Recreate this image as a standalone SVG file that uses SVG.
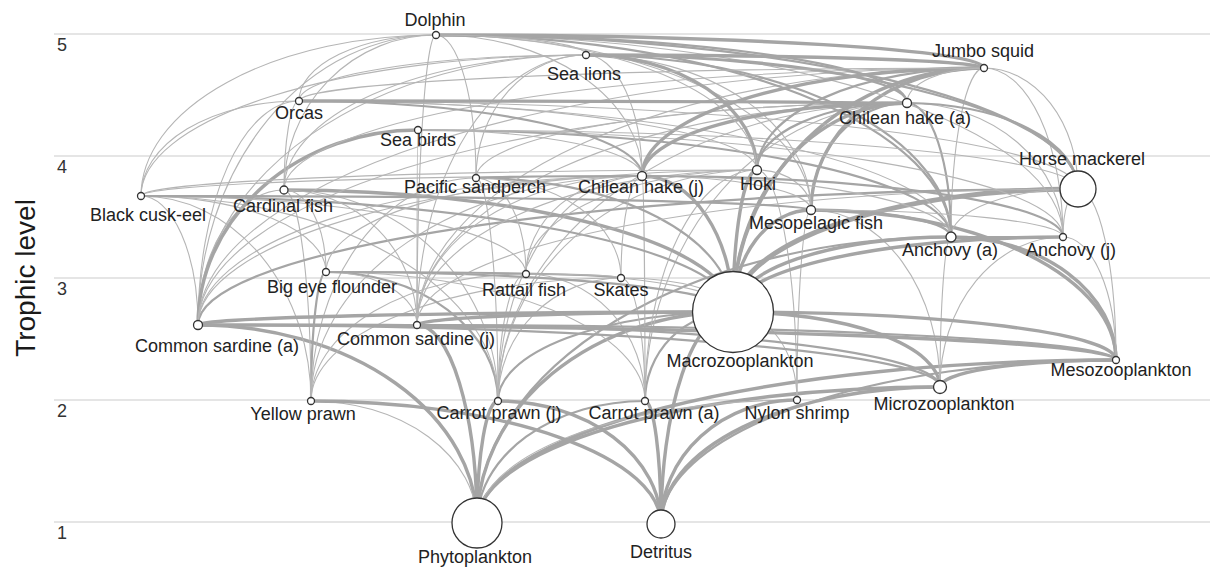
<svg xmlns="http://www.w3.org/2000/svg" width="1210" height="570" viewBox="0 0 1210 570">
<style>
.grid{stroke:#dcdcdc;stroke-width:1.5}
.ax{font-family:"Liberation Sans",Arial,sans-serif;font-size:18px;fill:#333}
.e{fill:none;stroke:#a5a5a5;stroke-linecap:round}
.t{stroke-width:1.1;stroke:#b5b5b5}
.m{stroke-width:2.2}
.T{stroke-width:3.4}
.X{stroke-width:5}
.n{fill:#fff;stroke:#333;stroke-width:1.3}
.l{font-family:"Liberation Sans",Arial,sans-serif;font-size:18px;fill:#222;text-anchor:middle}
</style>
<rect width="1210" height="570" fill="#fff"/>
<g id="axis">
<line class="grid" x1="54" y1="34" x2="1210" y2="34"/>
<line class="grid" x1="54" y1="156" x2="1210" y2="156"/>
<line class="grid" x1="54" y1="278" x2="1210" y2="278"/>
<line class="grid" x1="54" y1="400" x2="1210" y2="400"/>
<line class="grid" x1="54" y1="522" x2="1210" y2="522"/>
<text class="ax" x="57" y="51">5</text>
<text class="ax" x="57" y="173">4</text>
<text class="ax" x="57" y="295">3</text>
<text class="ax" x="57" y="417">2</text>
<text class="ax" x="57" y="539">1</text>
<text transform="translate(35 278) rotate(-90)" font-family="Liberation Sans, Arial, sans-serif" font-size="28" fill="#1a1a1a" text-anchor="middle">Trophic level</text>
</g>
<g id="edges">
<path class="e T" d="M477 523A279 198 0 0 0 198 325"/>
<path class="e T" d="M477 523A60 198 0 0 0 417 325"/>
<path class="e t" d="M477 523A166 122 0 0 0 311 401"/>
<path class="e T" d="M477 523A21 122 0 0 1 498 401"/>
<path class="e m" d="M477 523A168 122 0 0 1 645 401"/>
<path class="e T" d="M477 523A256 211 0 0 1 733 312"/>
<path class="e T" d="M477 523A463 136 0 0 1 940 387"/>
<path class="e T" d="M477 523A639 163 0 0 1 1116 360"/>
<path class="e m" d="M477 523A474 286 0 0 1 951 237"/>
<path class="e t" d="M477 523A320 123 0 0 1 797 400"/>
<path class="e T" d="M661 524A350 123 0 0 0 311 401"/>
<path class="e T" d="M661 524A163 123 0 0 0 498 401"/>
<path class="e T" d="M661 524A16 123 0 0 0 645 401"/>
<path class="e T" d="M661 524A136 124 0 0 1 797 400"/>
<path class="e T" d="M661 524A72 212 0 0 1 733 312"/>
<path class="e T" d="M661 524A279 137 0 0 1 940 387"/>
<path class="e m" d="M661 524A455 164 0 0 1 1116 360"/>
<path class="e m" d="M311 401A15 129 0 0 1 326 272"/>
<path class="e t" d="M311 401A27 211 0 0 0 284 190"/>
<path class="e t" d="M311 401A170 205 0 0 0 141 196"/>
<path class="e t" d="M311 401A165 223 0 0 1 476 178"/>
<path class="e t" d="M311 401A215 127 0 0 1 526 274"/>
<path class="e t" d="M311 401A310 123 0 0 1 621 278"/>
<path class="e t" d="M311 401A331 225 0 0 1 642 176"/>
<path class="e m" d="M498 401A172 129 0 0 0 326 272"/>
<path class="e t" d="M498 401A28 127 0 0 1 526 274"/>
<path class="e t" d="M498 401A123 123 0 0 1 621 278"/>
<path class="e t" d="M498 401A22 223 0 0 0 476 178"/>
<path class="e t" d="M498 401A214 211 0 0 0 284 190"/>
<path class="e t" d="M498 401A357 205 0 0 0 141 196"/>
<path class="e t" d="M498 401A144 225 0 0 1 642 176"/>
<path class="e t" d="M498 401A259 231 0 0 1 757 170"/>
<path class="e m" d="M498 401A235 89 0 0 1 733 312"/>
<path class="e t" d="M498 401A409 298 0 0 1 907 103"/>
<path class="e t" d="M645 401A24 123 0 0 0 621 278"/>
<path class="e t" d="M645 401A119 127 0 0 0 526 274"/>
<path class="e t" d="M645 401A3 225 0 0 0 642 176"/>
<path class="e t" d="M645 401A112 231 0 0 1 757 170"/>
<path class="e t" d="M645 401A319 129 0 0 0 326 272"/>
<path class="e m" d="M645 401A88 89 0 0 1 733 312"/>
<path class="e t" d="M645 401A262 298 0 0 1 907 103"/>
<path class="e t" d="M797 400A64 88 0 0 0 733 312"/>
<path class="e t" d="M797 400A40 230 0 0 0 757 170"/>
<path class="e t" d="M797 400A14 190 0 0 1 811 210"/>
<path class="e T" d="M940 387A207 75 0 0 0 733 312"/>
<path class="e T" d="M940 387A176 27 0 0 1 1116 360"/>
<path class="e t" d="M940 387A11 150 0 0 1 951 237"/>
<path class="e t" d="M940 387A123 150 0 0 1 1063 237"/>
<path class="e m" d="M940 387A742 62 0 0 0 198 325"/>
<path class="e m" d="M940 387A523 62 0 0 0 417 325"/>
<path class="e t" d="M940 387A129 177 0 0 0 811 210"/>
<path class="e T" d="M1116 360A383 48 0 0 0 733 312"/>
<path class="e T" d="M1116 360A165 123 0 0 0 951 237"/>
<path class="e t" d="M1116 360A53 123 0 0 0 1063 237"/>
<path class="e T" d="M1116 360A305 150 0 0 0 811 210"/>
<path class="e T" d="M1116 360A918 35 0 0 0 198 325"/>
<path class="e m" d="M1116 360A699 35 0 0 0 417 325"/>
<path class="e t" d="M1116 360A38 171 0 0 0 1078 189"/>
<path class="e X" d="M733 312A345 123 0 0 1 1078 189"/>
<path class="e T" d="M733 312A218 75 0 0 1 951 237"/>
<path class="e T" d="M733 312A330 75 0 0 1 1063 237"/>
<path class="e T" d="M733 312A78 102 0 0 1 811 210"/>
<path class="e T" d="M733 312A24 142 0 0 1 757 170"/>
<path class="e T" d="M733 312A91 136 0 0 0 642 176"/>
<path class="e T" d="M733 312A174 209 0 0 1 907 103"/>
<path class="e T" d="M733 312A251 244 0 0 1 984 68"/>
<path class="e T" d="M733 312A449 122 0 0 0 284 190"/>
<path class="e m" d="M733 312A592 116 0 0 0 141 196"/>
<path class="e m" d="M733 312A257 134 0 0 0 476 178"/>
<path class="e m" d="M733 312A407 40 0 0 0 326 272"/>
<path class="e t" d="M733 312A207 38 0 0 0 526 274"/>
<path class="e t" d="M733 312A112 34 0 0 0 621 278"/>
<path class="e T" d="M198 325A535 13 0 0 1 733 312"/>
<path class="e T" d="M417 325A316 13 0 0 1 733 312"/>
<path class="e t" d="M198 325A86 135 0 0 1 284 190"/>
<path class="e t" d="M198 325A57 129 0 0 0 141 196"/>
<path class="e t" d="M198 325A101 224 0 0 1 299 101"/>
<path class="e t" d="M198 325A238 290 0 0 1 436 35"/>
<path class="e t" d="M198 325A388 270 0 0 1 586 55"/>
<path class="e T" d="M198 325A220 195 0 0 1 418 130"/>
<path class="e t" d="M198 325A709 222 0 0 1 907 103"/>
<path class="e t" d="M198 325A786 257 0 0 1 984 68"/>
<path class="e m" d="M198 325A880 136 0 0 1 1078 189"/>
<path class="e t" d="M198 325A444 149 0 0 1 642 176"/>
<path class="e t" d="M198 325A559 155 0 0 1 757 170"/>
<path class="e t" d="M417 325A1 195 0 0 1 418 130"/>
<path class="e t" d="M417 325A19 290 0 0 1 436 35"/>
<path class="e t" d="M417 325A169 270 0 0 1 586 55"/>
<path class="e t" d="M417 325A490 222 0 0 1 907 103"/>
<path class="e t" d="M417 325A567 257 0 0 1 984 68"/>
<path class="e t" d="M417 325A340 155 0 0 1 757 170"/>
<path class="e t" d="M417 325A225 149 0 0 1 642 176"/>
<path class="e t" d="M417 325A661 136 0 0 1 1078 189"/>
<path class="e t" d="M417 325A91 53 0 0 0 326 272"/>
<path class="e t" d="M417 325A133 135 0 0 0 284 190"/>
<path class="e t" d="M326 272A42 82 0 0 0 284 190"/>
<path class="e t" d="M326 272A185 76 0 0 0 141 196"/>
<path class="e m" d="M621 278A295 6 0 0 0 326 272"/>
<path class="e t" d="M326 272A316 96 0 0 1 642 176"/>
<path class="e t" d="M526 274A385 78 0 0 0 141 196"/>
<path class="e t" d="M526 274A116 98 0 0 1 642 176"/>
<path class="e t" d="M526 274A50 96 0 0 0 476 178"/>
<path class="e t" d="M621 278A95 4 0 0 0 526 274"/>
<path class="e t" d="M526 274A231 104 0 0 1 757 170"/>
<path class="e t" d="M621 278A145 100 0 0 0 476 178"/>
<path class="e t" d="M621 278A21 102 0 0 1 642 176"/>
<path class="e t" d="M811 210A54 40 0 0 0 757 170"/>
<path class="e m" d="M811 210A96 107 0 0 1 907 103"/>
<path class="e T" d="M811 210A173 142 0 0 1 984 68"/>
<path class="e t" d="M811 210A375 175 0 0 0 436 35"/>
<path class="e t" d="M811 210A225 155 0 0 0 586 55"/>
<path class="e t" d="M811 210A169 34 0 0 0 642 176"/>
<path class="e t" d="M951 237A127 48 0 0 1 1078 189"/>
<path class="e m" d="M951 237A44 134 0 0 0 907 103"/>
<path class="e t" d="M951 237A33 169 0 0 1 984 68"/>
<path class="e m" d="M951 237A515 202 0 0 0 436 35"/>
<path class="e m" d="M951 237A365 182 0 0 0 586 55"/>
<path class="e m" d="M951 237A533 107 0 0 0 418 130"/>
<path class="e t" d="M951 237A652 136 0 0 0 299 101"/>
<path class="e t" d="M951 237A309 61 0 0 0 642 176"/>
<path class="e m" d="M951 237A140 27 0 0 0 811 210"/>
<path class="e t" d="M1063 237A15 48 0 0 1 1078 189"/>
<path class="e t" d="M1063 237A79 169 0 0 0 984 68"/>
<path class="e t" d="M1063 237A156 134 0 0 0 907 103"/>
<path class="e t" d="M1063 237A645 107 0 0 0 418 130"/>
<path class="e t" d="M1063 237A627 202 0 0 0 436 35"/>
<path class="e m" d="M1063 237A421 61 0 0 0 642 176"/>
<path class="e t" d="M1063 237A252 27 0 0 0 811 210"/>
<path class="e m" d="M951 237L1063 237"/>
<path class="e t" d="M1078 189A94 121 0 0 0 984 68"/>
<path class="e m" d="M1078 189A171 86 0 0 0 907 103"/>
<path class="e m" d="M1078 189A642 154 0 0 0 436 35"/>
<path class="e m" d="M1078 189A492 134 0 0 0 586 55"/>
<path class="e t" d="M1078 189A660 59 0 0 0 418 130"/>
<path class="e t" d="M1078 189A779 88 0 0 0 299 101"/>
<path class="e t" d="M284 190A15 89 0 0 1 299 101"/>
<path class="e t" d="M284 190A152 155 0 0 1 436 35"/>
<path class="e t" d="M284 190A302 135 0 0 1 586 55"/>
<path class="e t" d="M284 190A700 122 0 0 1 984 68"/>
<path class="e t" d="M141 196A158 95 0 0 1 299 101"/>
<path class="e t" d="M141 196A295 161 0 0 1 436 35"/>
<path class="e t" d="M141 196A445 141 0 0 1 586 55"/>
<path class="e m" d="M811 210A670 14 0 0 0 141 196"/>
<path class="e t" d="M141 196A616 26 0 0 1 757 170"/>
<path class="e t" d="M141 196A501 20 0 0 1 642 176"/>
<path class="e t" d="M476 178A110 123 0 0 1 586 55"/>
<path class="e t" d="M476 178A40 143 0 0 0 436 35"/>
<path class="e m" d="M476 178A166 2 0 0 1 642 176"/>
<path class="e t" d="M476 178A431 75 0 0 1 907 103"/>
<path class="e T" d="M642 176A342 108 0 0 1 984 68"/>
<path class="e T" d="M642 176A265 73 0 0 1 907 103"/>
<path class="e t" d="M642 176A56 121 0 0 0 586 55"/>
<path class="e t" d="M642 176A206 141 0 0 0 436 35"/>
<path class="e m" d="M642 176A343 75 0 0 0 299 101"/>
<path class="e t" d="M642 176A224 46 0 0 0 418 130"/>
<path class="e T" d="M757 170A171 115 0 0 0 586 55"/>
<path class="e m" d="M757 170A227 102 0 0 1 984 68"/>
<path class="e m" d="M757 170A150 67 0 0 1 907 103"/>
<path class="e t" d="M757 170A321 135 0 0 0 436 35"/>
<path class="e t" d="M757 170A458 69 0 0 0 299 101"/>
<path class="e T" d="M907 103A608 2 0 0 0 299 101"/>
<path class="e t" d="M907 103A77 35 0 0 1 984 68"/>
<path class="e m" d="M907 103A321 48 0 0 0 586 55"/>
<path class="e m" d="M907 103A471 68 0 0 0 436 35"/>
<path class="e T" d="M984 68A548 33 0 0 0 436 35"/>
<path class="e T" d="M984 68A398 13 0 0 0 586 55"/>
<path class="e t" d="M299 101A685 33 0 0 1 984 68"/>
<path class="e t" d="M299 101A137 66 0 0 1 436 35"/>
<path class="e t" d="M299 101A287 46 0 0 1 586 55"/>
<path class="e t" d="M586 55A150 20 0 0 0 436 35"/>
</g>
<g id="node-dolphin"><circle class="n" cx="436" cy="35" r="3.5"/><text class="l" x="435" y="26">Dolphin</text></g>
<g id="node-sea-lions"><circle class="n" cx="586" cy="55" r="3.5"/><text class="l" x="584" y="80">Sea lions</text></g>
<g id="node-jumbo-squid"><circle class="n" cx="984" cy="68" r="3.5"/><text class="l" x="983" y="57">Jumbo squid</text></g>
<g id="node-orcas"><circle class="n" cx="299" cy="101" r="3.5"/><text class="l" x="299" y="119">Orcas</text></g>
<g id="node-sea-birds"><circle class="n" cx="418" cy="130" r="3.5"/><text class="l" x="418" y="146">Sea birds</text></g>
<g id="node-chilean-hake-a"><circle class="n" cx="907" cy="103" r="4.5"/><text class="l" x="905" y="124">Chilean hake (a)</text></g>
<g id="node-black-cusk-eel"><circle class="n" cx="141" cy="196" r="3.5"/><text class="l" x="148" y="221">Black cusk-eel</text></g>
<g id="node-cardinal-fish"><circle class="n" cx="284" cy="190" r="4"/><text class="l" x="283" y="212">Cardinal fish</text></g>
<g id="node-pacific-sandperch"><circle class="n" cx="476" cy="178" r="3.5"/><text class="l" x="475" y="193">Pacific sandperch</text></g>
<g id="node-chilean-hake-j"><circle class="n" cx="642" cy="176" r="4.5"/><text class="l" x="641" y="193">Chilean hake (j)</text></g>
<g id="node-hoki"><circle class="n" cx="757" cy="170" r="4.5"/><text class="l" x="758" y="190">Hoki</text></g>
<g id="node-horse-mackerel"><circle class="n" cx="1078" cy="189" r="18"/><text class="l" x="1082" y="165">Horse mackerel</text></g>
<g id="node-mesopelagic-fish"><circle class="n" cx="811" cy="210" r="4.5"/><text class="l" x="816" y="229">Mesopelagic fish</text></g>
<g id="node-anchovy-a"><circle class="n" cx="951" cy="237" r="5"/><text class="l" x="950" y="256">Anchovy (a)</text></g>
<g id="node-anchovy-j"><circle class="n" cx="1063" cy="237" r="3.5"/><text class="l" x="1071" y="256">Anchovy (j)</text></g>
<g id="node-big-eye-flounder"><circle class="n" cx="326" cy="272" r="3.5"/><text class="l" x="332" y="293">Big eye flounder</text></g>
<g id="node-rattail-fish"><circle class="n" cx="526" cy="274" r="3.5"/><text class="l" x="524" y="296">Rattail fish</text></g>
<g id="node-skates"><circle class="n" cx="621" cy="278" r="3.5"/><text class="l" x="621" y="296">Skates</text></g>
<g id="node-macrozooplankton"><circle class="n" cx="733" cy="312" r="40.5"/><text class="l" x="740" y="367">Macrozooplankton</text></g>
<g id="node-common-sardine-a"><circle class="n" cx="198" cy="325" r="4.5"/><text class="l" x="217" y="352">Common sardine (a)</text></g>
<g id="node-common-sardine-j"><circle class="n" cx="417" cy="325" r="3.5"/><text class="l" x="416" y="345">Common sardine (j)</text></g>
<g id="node-mesozooplankton"><circle class="n" cx="1116" cy="360" r="3.5"/><text class="l" x="1121" y="376">Mesozooplankton</text></g>
<g id="node-microzooplankton"><circle class="n" cx="940" cy="387" r="6.5"/><text class="l" x="944" y="410">Microzooplankton</text></g>
<g id="node-yellow-prawn"><circle class="n" cx="311" cy="401" r="3.5"/><text class="l" x="303" y="420">Yellow prawn</text></g>
<g id="node-carrot-prawn-j"><circle class="n" cx="498" cy="401" r="3.5"/><text class="l" x="499" y="419">Carrot prawn (j)</text></g>
<g id="node-carrot-prawn-a"><circle class="n" cx="645" cy="401" r="3.5"/><text class="l" x="654" y="419">Carrot prawn (a)</text></g>
<g id="node-nylon-shrimp"><circle class="n" cx="797" cy="400" r="3.5"/><text class="l" x="797" y="419">Nylon shrimp</text></g>
<g id="node-phytoplankton"><circle class="n" cx="477" cy="523" r="25"/><text class="l" x="475" y="563">Phytoplankton</text></g>
<g id="node-detritus"><circle class="n" cx="661" cy="524" r="14"/><text class="l" x="661" y="558">Detritus</text></g>
</svg>
